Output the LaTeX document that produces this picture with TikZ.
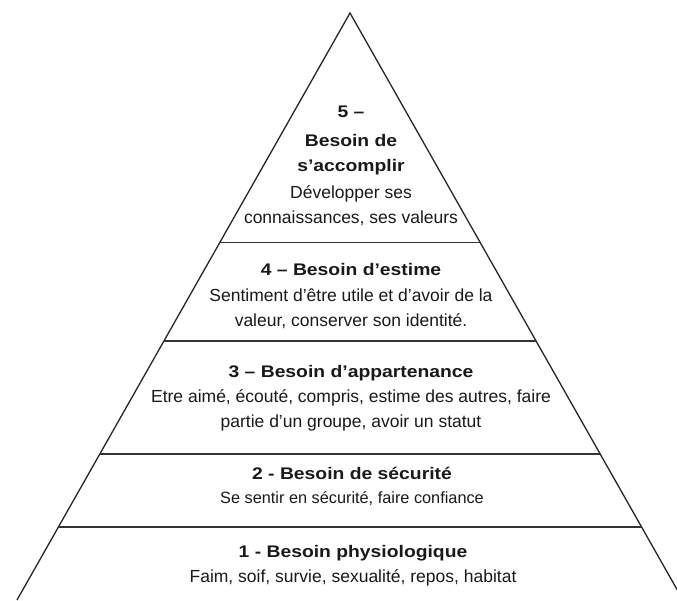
\documentclass[tikz,border=0pt]{standalone}
\usepackage{fontspec}
\setmainfont{Liberation Sans}
\newfontfamily\headfont[FakeStretch=1.15]{Liberation Sans}
\usetikzlibrary{calc}

\begin{document}
\begin{tikzpicture}[x=1pt,y=-1pt]
        \useasboundingbox (0,0) rectangle (677,600);
        \clip (0,0) rectangle (677,600);
        \coordinate (top) at (350,13);
        \coordinate (bl) at (17,600);
        \coordinate (br) at (683,600);
        \begin{scope}[every path/.style={draw=black!85,line width=1.3pt}]
            \path (bl) -- (top) -- (br);
        \end{scope}
        \begin{scope}[every path/.style={draw=black!80,line width=1.8pt}]
            \path ($(top)!0.391!(bl)$) -- ($(top)!0.391!(br)$);
            \path ($(top)!0.5588!(bl)$) -- ($(top)!0.5588!(br)$);
            \path ($(top)!0.7513!(bl)$) -- ($(top)!0.7513!(br)$);
            \path ($(top)!0.8756!(bl)$) -- ($(top)!0.8756!(br)$);
        \end{scope}
        \begin{scope}[every node/.style={anchor=base,text=black!90,inner sep=0pt},
                head/.style={font=\headfont\bfseries\fontsize{16.8}{20}\selectfont},
                body/.style={font=\fontsize{17.5}{21}\selectfont}]
            \node[head] (51) at (351,117) {5 –};
            \node[head] (52) at (351,146) {Besoin de};
            \node[head] (53) at (351,171) {s’accomplir};
            \node[body] (54) at (351,198) {Développer ses};
            \node[body] (55) at (351,223) {connaissances, ses valeurs};

            \node[head] (41) at (351,275) {4 – Besoin d’estime};
            \node[body] (42) at (351,301.5) {Sentiment d’être utile et d’avoir de la};
            \node[body] (43) at (351,326) {valeur, conserver son identité.};

            \node[head] (31) at (351,377) {3 – Besoin d’appartenance};
            \node[body] (32) at (351,402) {Etre aimé, écouté, compris, estime des autres, faire};
            \node[body] (33) at (351,427) {partie d’un groupe, avoir un statut};

            \node[head] (21) at (352,479) {2 - Besoin de sécurité};
            \node[body,font=\fontsize{16.3}{19}\selectfont] (22) at (352,503) {Se sentir en sécurité, faire confiance};

            \node[head] (11) at (353,557) {1 - Besoin physiologique};
            \node[body] (12) at (353,582) {Faim, soif, survie, sexualité, repos, habitat};
        \end{scope}
    \end{tikzpicture}
\end{document}
